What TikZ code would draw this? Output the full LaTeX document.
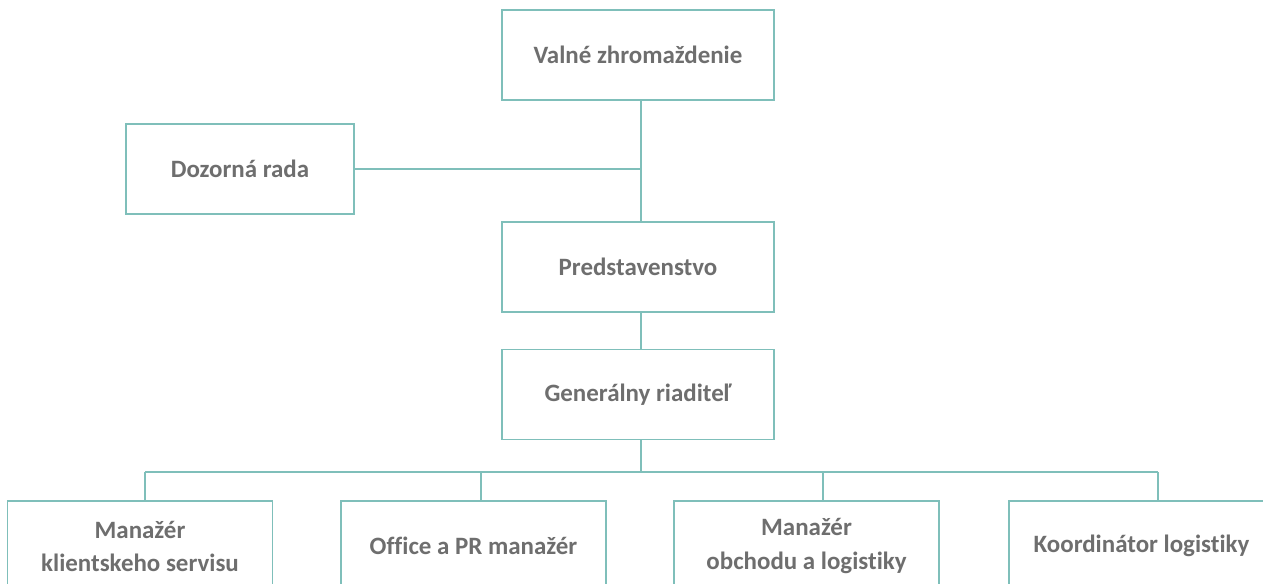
\documentclass[tikz,border=0pt]{standalone}
\usepackage{fontspec}
\setmainfont[Ligatures=NoCommon]{Carlito}
\definecolor{linka}{HTML}{7FBFBA}
\definecolor{pismo}{HTML}{6E6E6E}
\begin{document}
\begin{tikzpicture}[x=0.02cm,y=-0.02cm,
    every node/.style={draw=linka,line width=1pt,fill=white,text=pismo,
        font=\fontsize{14.2}{18.8}\selectfont\bfseries,align=center,
        minimum width=5.44cm,minimum height=1.8cm,inner sep=0pt},
    spoj/.style={draw=linka,line width=1pt}]
    \useasboundingbox (0,0) rectangle (1263,584);
    \node (valne) at (638,55) {Valné zhromaždenie};
    \node[minimum width=4.56cm] (dozor) at (240,169) {Dozorná rada};
    \node (pred) at (638,267) {Predstavenstvo};
    \node (gen) at (638,394.5) {Generálny riaditeľ};
    \node[minimum width=5.3cm] (klient) at (140,546) {Manažér\\klientskeho servisu};
    \node[minimum width=5.3cm] (office) at (473.5,546) {Office a PR manažér};
    \node[minimum width=5.3cm] (obchod) at (806.5,546) {Manažér\\obchodu a logistiky};
    \node[minimum width=5.3cm] (logist) at (1141.5,546) {Koordinátor logistiky};
    % zbernice
    \coordinate (os) at (641,0);
    \coordinate (z1) at (145,472);
    \coordinate (z2) at (481,472);
    \coordinate (z3) at (823,472);
    \coordinate (z4) at (1158,472);
    \draw[spoj] (valne.south -| os) -- (pred.north -| os);
    \draw[spoj] (dozor.east) -- (dozor.east -| os);
    \draw[spoj] (pred.south -| os) -- (gen.north -| os);
    \draw[spoj] (gen.south -| os) -- (z1 -| os);
    \draw[spoj] (z1) -- (z4);
    \draw[spoj] (z1) -- (z1 |- klient.north);
    \draw[spoj] (z2) -- (z2 |- office.north);
    \draw[spoj] (z3) -- (z3 |- obchod.north);
    \draw[spoj] (z4) -- (z4 |- logist.north);
\end{tikzpicture}
\end{document}
